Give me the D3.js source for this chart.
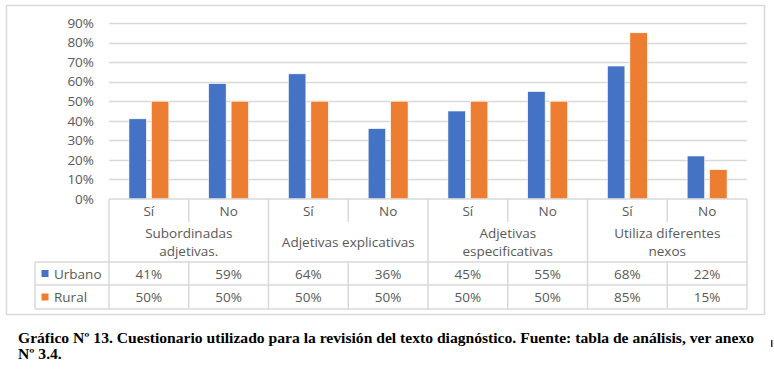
<!DOCTYPE html>
<html>
<head>
<meta charset="utf-8">
<script src="https://cdn.jsdelivr.net/npm/d3@7"></script>
<style>
  body { margin: 0; background: #fff; }
  svg { display: block; }
  .lbl { font-family: "Open Sans", sans-serif; font-size: 13.5px; fill: #595959; }
  .cap { font-family: "Liberation Serif", "Times New Roman", serif; font-size: 15px; font-weight: bold; fill: #000; }
</style>
</head>
<body>
<svg id="chart"></svg>
<script>
// data
var groups = ["Subordinadas adjetivas.", "Adjetivas explicativas", "Adjetivas especificativas", "Utiliza diferentes nexos"];
var groupLines = [["Subordinadas", "adjetivas."], ["Adjetivas explicativas"], ["Adjetivas", "especificativas"], ["Utiliza diferentes", "nexos"]];
var answers = ["Sí", "No"];
var seriesNames = ["Urbano", "Rural"];
var urbano = [41, 59, 64, 36, 45, 55, 68, 22];
var rural = [50, 50, 50, 50, 50, 50, 85, 15];
var yTicks = [0, 10, 20, 30, 40, 50, 60, 70, 80, 90];
var caption1 = "Gráfico Nº 13. Cuestionario utilizado para la revisión del texto diagnóstico. Fuente: tabla de análisis, ver anexo";
var caption2 = "Nº 3.4.";

var colors = ["#4472C4", "#ED7D31"];
var gridCol = "#d9d9d9";

// layout
var width = 774, height = 370,
  plotL = 109, plotR = 747, plotT = 23, plotB = 199,
  legendL = 35,
  rowSubB = 222, rowGroupB = 262, rowUrbB = 285, rowRurB = 309;

var svg = d3.select("#chart").attr("width", width).attr("height", height);

// frame
svg.append("rect")
  .attr("x", 6.5).attr("y", 5.5).attr("width", 758).attr("height", 309)
  .attr("fill", "#fff").attr("stroke", gridCol).attr("stroke-width", 1.5);

// categories: each answer in each group
var cats = [];
groups.forEach(function(g, gi) {
  answers.forEach(function(a, ai) { cats.push({ id: gi + "-" + ai, group: gi, ans: a }); });
});
var rows = cats.map(function(c, i) { return { id: c.id, vals: [urbano[i], rural[i]] }; });

var x0 = d3.scaleBand().domain(cats.map(function(c) { return c.id; })).range([plotL, plotR]).padding(0);
var bw = x0.bandwidth();
var x1 = d3.scaleBand().domain(seriesNames).range([bw * 0.25, bw * 0.75]).paddingInner(0.222);
var y = d3.scaleLinear().domain([0, 90]).range([plotB, plotT]);

// gridlines
svg.append("g").selectAll("line")
  .data(yTicks.slice(1))
  .enter().append("line")
    .attr("x1", plotL).attr("x2", plotR)
    .attr("y1", function(d) { return Math.round(y(d)) + 0.5; })
    .attr("y2", function(d) { return Math.round(y(d)) + 0.5; })
    .attr("stroke", gridCol).attr("stroke-width", 1.5);

// y axis labels
var yAxis = d3.axisLeft(y).tickValues(yTicks).tickSize(0).tickPadding(15)
  .tickFormat(function(d) { return d + "%"; });
var yg = svg.append("g").attr("transform", "translate(" + plotL + ",0)").call(yAxis);
yg.select(".domain").remove();
yg.selectAll("text").attr("class", "lbl").attr("font-family", null).attr("font-size", null);

// bars
var catG = svg.append("g").selectAll("g")
  .data(rows)
  .enter().append("g")
    .attr("transform", function(d) { return "translate(" + x0(d.id) + ",0)"; });

catG.selectAll("rect")
  .data(function(d) { return d.vals.map(function(v, i) { return { s: seriesNames[i], v: v, i: i }; }); })
  .enter().append("rect")
    .attr("x", function(d) { return x1(d.s); })
    .attr("y", function(d) { return y(d.v); })
    .attr("width", x1.bandwidth())
    .attr("height", function(d) { return plotB - y(d.v); })
    .attr("fill", function(d) { return colors[d.i]; })
    .attr("stroke", "#fff").attr("stroke-width", 0.6);

// data table
var tbl = svg.append("g").attr("stroke", gridCol).attr("stroke-width", 1.5).attr("fill", "none");
// horizontal lines
[[plotL, plotB], [legendL, rowGroupB], [legendL, rowUrbB], [legendL, rowRurB]].forEach(function(h) {
  tbl.append("line").attr("x1", h[0]).attr("x2", plotR).attr("y1", h[1]).attr("y2", h[1]);
});
// left borders
tbl.append("line").attr("x1", legendL).attr("x2", legendL).attr("y1", rowGroupB).attr("y2", rowRurB);
// column lines
cats.forEach(function(c, i) {
  var xx = x0(c.id);
  var top = plotB, bot = rowRurB;
  if (i % 2 === 1) {
    tbl.append("line").attr("x1", xx).attr("x2", xx).attr("y1", top).attr("y2", rowSubB);
    tbl.append("line").attr("x1", xx).attr("x2", xx).attr("y1", rowGroupB).attr("y2", bot);
  } else {
    tbl.append("line").attr("x1", xx).attr("x2", xx).attr("y1", top).attr("y2", bot);
  }
});
tbl.append("line").attr("x1", plotR).attr("x2", plotR).attr("y1", plotB).attr("y2", rowRurB);

// answer labels
svg.append("g").selectAll("text")
  .data(cats)
  .enter().append("text")
    .attr("class", "lbl")
    .attr("x", function(d) { return x0(d.id) + bw / 2; })
    .attr("y", (plotB + rowSubB) / 2 + 5)
    .attr("text-anchor", "middle")
    .text(function(d) { return d.ans; });

// group labels
var gl = svg.append("g").selectAll("text")
  .data(groupLines)
  .enter().append("text")
    .attr("class", "lbl")
    .attr("text-anchor", "middle")
    .attr("x", function(d, i) { return x0(i + "-0") + bw; })
    .attr("y", function(d) { return d.length === 1 ? 247 : 238; });
gl.selectAll("tspan")
  .data(function(d) { return d; })
  .enter().append("tspan")
    .attr("x", function() { return d3.select(this.parentNode).attr("x"); })
    .attr("dy", function(d, i) { return i === 0 ? 0 : 18; })
    .text(function(d) { return d; });

// value rows
var seriesVals = [urbano, rural];
var rowMid = [(rowGroupB + rowUrbB) / 2, (rowUrbB + rowRurB) / 2];
seriesVals.forEach(function(vals, si) {
  var r = svg.append("g");
  r.append("rect")
    .attr("x", legendL + 6.5).attr("y", rowMid[si] - 3.5)
    .attr("width", 7).attr("height", 7).attr("fill", colors[si]);
  r.append("text").attr("class", "lbl")
    .attr("x", legendL + 19).attr("y", rowMid[si] + 5)
    .text(seriesNames[si]);
  r.selectAll("text.v")
    .data(vals)
    .enter().append("text")
      .attr("class", "lbl v")
      .attr("text-anchor", "middle")
      .attr("x", function(d, i) { return x0(cats[i].id) + bw / 2; })
      .attr("y", rowMid[si] + 5)
      .text(function(d) { return d + "%"; });
});

// caption, stretched to the width of the original line
var c1 = svg.append("text").attr("class", "cap").attr("x", 18).attr("y", 343).text(caption1);
var c2 = svg.append("text").attr("class", "cap").attr("x", 18).attr("y", 359).text(caption2);
var ratio = 736 / c1.node().getComputedTextLength();
c1.attr("textLength", 736).attr("lengthAdjust", "spacingAndGlyphs");
c2.attr("textLength", c2.node().getComputedTextLength() * ratio).attr("lengthAdjust", "spacingAndGlyphs");
svg.append("rect").attr("x", 771).attr("y", 340).attr("width", 1.5).attr("height", 7).attr("fill", "#333");
</script>
</body>
</html>
